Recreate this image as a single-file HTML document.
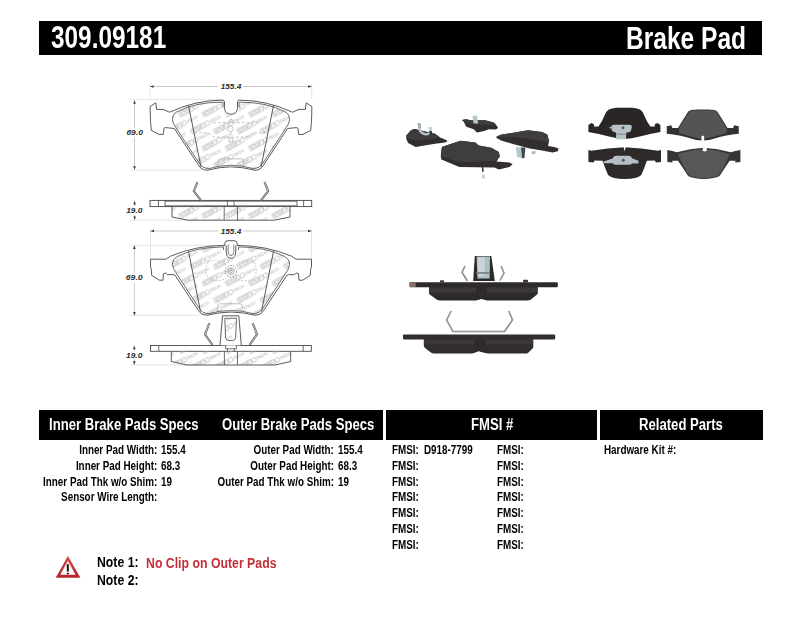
<!DOCTYPE html>
<html><head><meta charset="utf-8">
<style>
html,body{margin:0;padding:0;background:#fff;}
body{width:800px;height:619px;position:relative;overflow:hidden;font-family:"Liberation Sans",sans-serif;font-weight:bold;color:#000;}
.bar{position:absolute;background:#000;}
.t{position:absolute;white-space:nowrap;line-height:1;transform-origin:0 0;}
.r{transform-origin:100% 0;text-align:right;}
.w{color:#fff;}
.h{font-size:16px;}
.s{font-size:12px;}
</style></head>
<body>
<!--SVG-->
<svg style="position:absolute;left:0;top:0" width="800" height="619" viewBox="0 0 800 619">
<style>.dimt{font:italic bold 7px "Liberation Sans",sans-serif;fill:#2a2a2a} .wmt{font:bold 4.4px "Liberation Sans",sans-serif;fill:#b4b4b4;letter-spacing:-0.1px} .wmt2{font:bold 4.4px "Liberation Sans",sans-serif;fill:#c4c4c4;letter-spacing:-0.1px}</style>
<path d="M150,84 V99.5 M311.7,84 V99.5 M130,99.4 H224 M130,170.1 H202" stroke="#dedede" stroke-width="0.8" fill="none"/>
<path d="M150,86.5 H218 M243.5,86.5 H311.7" stroke="#b8b8b8" stroke-width="0.75" fill="none"/>
<path d="M150,86.5 l3.5,-1.3 v2.6 z" fill="#333"/>
<path d="M311.7,86.5 l-3.5,-1.3 v2.6 z" fill="#333"/>
<text x="220.7" y="88.9" textLength="20.6" lengthAdjust="spacingAndGlyphs" class="dimt">155.4</text>
<path d="M134.5,100.2 V128.5 M134.5,137 V169.8" stroke="#b8b8b8" stroke-width="0.75" fill="none"/>
<path d="M134.5,100.2 l-1.3,3.5 h2.6 z" fill="#333"/>
<path d="M134.5,169.8 l-1.3,-3.5 h2.6 z" fill="#333"/>
<text x="126.4" y="135.1" textLength="16.5" lengthAdjust="spacingAndGlyphs" class="dimt">69.0</text>
<defs><clipPath id="cp1"><path d="M231,114.2 Q224.5,114.2 224.5,107.5 L224.5,101.8 Q224.5,100.3 222.5,100.2 Q196,100 169.5,112.2 L163,109.4 L156.6,109.4 L155.75,102.8 L150.1,106.6 L150.5,121.5 L151.3,130.4 L159,134.4 L163.4,134.4 L164,128.2 L165.6,127.6 L174.4,128.5 L198.4,165 Q201,170 207,170.3 Q219,167 231,166.8 Q243,167 255,170.3 Q261,170 263.6,165 L287.6,128.5 L296.4,127.6 L298,128.2 L298.6,134.4 L303,134.4 L310.7,130.4 L311.5,121.5 L311.9,106.6 L306.25,102.8 L305.4,109.4 L299,109.4 L292.5,112.2 Q266,100 239.5,100.2 Q237.5,100.3 237.5,101.8 L237.5,107.5 Q237.5,114.2 231,114.2 Z"/></clipPath><clipPath id="cp2"><path id="bp2d" d="M224.8,245.4 Q196,245.5 170.5,256.2 L165.8,259.2 L150.5,259.2 L150.5,267.3 L151.3,269 L151.7,275.4 L159.4,280.2 L163,280.2 L163.4,273.8 L165.8,273 L167.5,274.6 L173.5,274.6 L175,275.2 L198.4,310.5 Q201,315 207,315.2 Q219,312.2 231,312 Q243,312.2 255,315.2 Q261,315 263.6,310.5 L287,275.2 L288.5,274.6 L294.5,274.6 L296.2,273 L298.6,273.8 L299,280.2 L302.6,280.2 L310.3,275.4 L310.7,269 L311.5,267.3 L311.5,259.2 L296.2,259.2 L291.5,256.2 Q266,245.5 237.2,245.4 Z"/></clipPath><pattern id="wm" width="23.3" height="33.8" patternUnits="userSpaceOnUse" x="209.6" y="145.25"><g transform="translate(-23.3,-33.8) rotate(-28)"><rect x="-7.5" y="-2.3" width="15" height="4.6" fill="none" stroke="#a6a6a6" stroke-width="0.6"/><text x="-6.3" y="1.65" class="wmt">STOP</text><circle cx="10.8" cy="0" r="2.3" fill="none" stroke="#a6a6a6" stroke-width="0.6"/><text x="13.6" y="1.65" class="wmt2">TECH</text></g><g transform="translate(-23.3,0) rotate(-28)"><rect x="-7.5" y="-2.3" width="15" height="4.6" fill="none" stroke="#a6a6a6" stroke-width="0.6"/><text x="-6.3" y="1.65" class="wmt">STOP</text><circle cx="10.8" cy="0" r="2.3" fill="none" stroke="#a6a6a6" stroke-width="0.6"/><text x="13.6" y="1.65" class="wmt2">TECH</text></g><g transform="translate(-23.3,33.8) rotate(-28)"><rect x="-7.5" y="-2.3" width="15" height="4.6" fill="none" stroke="#a6a6a6" stroke-width="0.6"/><text x="-6.3" y="1.65" class="wmt">STOP</text><circle cx="10.8" cy="0" r="2.3" fill="none" stroke="#a6a6a6" stroke-width="0.6"/><text x="13.6" y="1.65" class="wmt2">TECH</text></g><g transform="translate(0,-33.8) rotate(-28)"><rect x="-7.5" y="-2.3" width="15" height="4.6" fill="none" stroke="#a6a6a6" stroke-width="0.6"/><text x="-6.3" y="1.65" class="wmt">STOP</text><circle cx="10.8" cy="0" r="2.3" fill="none" stroke="#a6a6a6" stroke-width="0.6"/><text x="13.6" y="1.65" class="wmt2">TECH</text></g><g transform="translate(0,0) rotate(-28)"><rect x="-7.5" y="-2.3" width="15" height="4.6" fill="none" stroke="#a6a6a6" stroke-width="0.6"/><text x="-6.3" y="1.65" class="wmt">STOP</text><circle cx="10.8" cy="0" r="2.3" fill="none" stroke="#a6a6a6" stroke-width="0.6"/><text x="13.6" y="1.65" class="wmt2">TECH</text></g><g transform="translate(0,33.8) rotate(-28)"><rect x="-7.5" y="-2.3" width="15" height="4.6" fill="none" stroke="#a6a6a6" stroke-width="0.6"/><text x="-6.3" y="1.65" class="wmt">STOP</text><circle cx="10.8" cy="0" r="2.3" fill="none" stroke="#a6a6a6" stroke-width="0.6"/><text x="13.6" y="1.65" class="wmt2">TECH</text></g><g transform="translate(23.3,-33.8) rotate(-28)"><rect x="-7.5" y="-2.3" width="15" height="4.6" fill="none" stroke="#a6a6a6" stroke-width="0.6"/><text x="-6.3" y="1.65" class="wmt">STOP</text><circle cx="10.8" cy="0" r="2.3" fill="none" stroke="#a6a6a6" stroke-width="0.6"/><text x="13.6" y="1.65" class="wmt2">TECH</text></g><g transform="translate(23.3,0) rotate(-28)"><rect x="-7.5" y="-2.3" width="15" height="4.6" fill="none" stroke="#a6a6a6" stroke-width="0.6"/><text x="-6.3" y="1.65" class="wmt">STOP</text><circle cx="10.8" cy="0" r="2.3" fill="none" stroke="#a6a6a6" stroke-width="0.6"/><text x="13.6" y="1.65" class="wmt2">TECH</text></g><g transform="translate(23.3,33.8) rotate(-28)"><rect x="-7.5" y="-2.3" width="15" height="4.6" fill="none" stroke="#a6a6a6" stroke-width="0.6"/><text x="-6.3" y="1.65" class="wmt">STOP</text><circle cx="10.8" cy="0" r="2.3" fill="none" stroke="#a6a6a6" stroke-width="0.6"/><text x="13.6" y="1.65" class="wmt2">TECH</text></g><g transform="translate(-11.65,-16.9) rotate(-28)"><rect x="-7.5" y="-2.3" width="15" height="4.6" fill="none" stroke="#a6a6a6" stroke-width="0.6"/><text x="-6.3" y="1.65" class="wmt">STOP</text><circle cx="10.8" cy="0" r="2.3" fill="none" stroke="#a6a6a6" stroke-width="0.6"/><text x="13.6" y="1.65" class="wmt2">TECH</text></g><g transform="translate(-11.65,16.9) rotate(-28)"><rect x="-7.5" y="-2.3" width="15" height="4.6" fill="none" stroke="#a6a6a6" stroke-width="0.6"/><text x="-6.3" y="1.65" class="wmt">STOP</text><circle cx="10.8" cy="0" r="2.3" fill="none" stroke="#a6a6a6" stroke-width="0.6"/><text x="13.6" y="1.65" class="wmt2">TECH</text></g><g transform="translate(-11.65,50.7) rotate(-28)"><rect x="-7.5" y="-2.3" width="15" height="4.6" fill="none" stroke="#a6a6a6" stroke-width="0.6"/><text x="-6.3" y="1.65" class="wmt">STOP</text><circle cx="10.8" cy="0" r="2.3" fill="none" stroke="#a6a6a6" stroke-width="0.6"/><text x="13.6" y="1.65" class="wmt2">TECH</text></g><g transform="translate(11.65,-16.9) rotate(-28)"><rect x="-7.5" y="-2.3" width="15" height="4.6" fill="none" stroke="#a6a6a6" stroke-width="0.6"/><text x="-6.3" y="1.65" class="wmt">STOP</text><circle cx="10.8" cy="0" r="2.3" fill="none" stroke="#a6a6a6" stroke-width="0.6"/><text x="13.6" y="1.65" class="wmt2">TECH</text></g><g transform="translate(11.65,16.9) rotate(-28)"><rect x="-7.5" y="-2.3" width="15" height="4.6" fill="none" stroke="#a6a6a6" stroke-width="0.6"/><text x="-6.3" y="1.65" class="wmt">STOP</text><circle cx="10.8" cy="0" r="2.3" fill="none" stroke="#a6a6a6" stroke-width="0.6"/><text x="13.6" y="1.65" class="wmt2">TECH</text></g><g transform="translate(11.65,50.7) rotate(-28)"><rect x="-7.5" y="-2.3" width="15" height="4.6" fill="none" stroke="#a6a6a6" stroke-width="0.6"/><text x="-6.3" y="1.65" class="wmt">STOP</text><circle cx="10.8" cy="0" r="2.3" fill="none" stroke="#a6a6a6" stroke-width="0.6"/><text x="13.6" y="1.65" class="wmt2">TECH</text></g><g transform="translate(34.95,-16.9) rotate(-28)"><rect x="-7.5" y="-2.3" width="15" height="4.6" fill="none" stroke="#a6a6a6" stroke-width="0.6"/><text x="-6.3" y="1.65" class="wmt">STOP</text><circle cx="10.8" cy="0" r="2.3" fill="none" stroke="#a6a6a6" stroke-width="0.6"/><text x="13.6" y="1.65" class="wmt2">TECH</text></g><g transform="translate(34.95,16.9) rotate(-28)"><rect x="-7.5" y="-2.3" width="15" height="4.6" fill="none" stroke="#a6a6a6" stroke-width="0.6"/><text x="-6.3" y="1.65" class="wmt">STOP</text><circle cx="10.8" cy="0" r="2.3" fill="none" stroke="#a6a6a6" stroke-width="0.6"/><text x="13.6" y="1.65" class="wmt2">TECH</text></g><g transform="translate(34.95,50.7) rotate(-28)"><rect x="-7.5" y="-2.3" width="15" height="4.6" fill="none" stroke="#a6a6a6" stroke-width="0.6"/><text x="-6.3" y="1.65" class="wmt">STOP</text><circle cx="10.8" cy="0" r="2.3" fill="none" stroke="#a6a6a6" stroke-width="0.6"/><text x="13.6" y="1.65" class="wmt2">TECH</text></g></pattern></defs>
<path d="M231,115.5 Q223,115.5 223,107.5 L223,102.2 Q196,101.8 177,111.8 Q172.5,114 172.4,119.7 Q173,124 175.8,127.6 L199.6,163.8 Q202,168 208,168.8 Q219,165.5 231,165.2 Q243,165.5 254,168.8 Q260,168 262.4,163.8 L286.2,127.6 Q289,124 289.6,119.7 Q289.5,114 285,111.8 Q266,101.8 239,102.2 L239,107.5 Q239,115.5 231,115.5 Z" fill="url(#wm)" stroke="none"/>
<path d="M231,114.2 Q224.5,114.2 224.5,107.5 L224.5,101.8 Q224.5,100.3 222.5,100.2 Q196,100 169.5,112.2 L163,109.4 L156.6,109.4 L155.75,102.8 L150.1,106.6 L150.5,121.5 L151.3,130.4 L159,134.4 L163.4,134.4 L164,128.2 L165.6,127.6 L174.4,128.5 L198.4,165 Q201,170 207,170.3 Q219,167 231,166.8 Q243,167 255,170.3 Q261,170 263.6,165 L287.6,128.5 L296.4,127.6 L298,128.2 L298.6,134.4 L303,134.4 L310.7,130.4 L311.5,121.5 L311.9,106.6 L306.25,102.8 L305.4,109.4 L299,109.4 L292.5,112.2 Q266,100 239.5,100.2 Q237.5,100.3 237.5,101.8 L237.5,107.5 Q237.5,114.2 231,114.2 Z" fill="none" stroke="#474747" stroke-width="0.9"/>
<path d="M223,107.5 L223,102.2 Q196,101.8 177,111.8 Q172.5,114 172.4,119.7 Q173,124 175.8,127.6 L199.6,163.8 Q202,168 208,168.8 Q219,165.5 231,165.2 M239,107.5 239,107.5 L239,102.2 Q266,101.8 285,111.8 Q289.5,114 289.6,119.7 Q289,124 286.2,127.6 L262.4,163.8 Q260,168 254,168.8 Q243,165.5 231,165.2" fill="none" stroke="#474747" stroke-width="0.8"/>
<path d="M188.5,105.5 L201,167.2 M273.5,105.5 L261,167.2" stroke="#474747" stroke-width="0.9" fill="none"/>
<rect x="218" y="158.8" width="25.8" height="7.5" rx="2.5" fill="none" stroke="#b0b0b0" stroke-width="0.8"/>
<path d="M213,122.7 H260 M194,132.8 H208 L214.4,137.1 H246.3 L253.8,132.8 H268" stroke="#b0b0b0" stroke-width="0.7" stroke-dasharray="3,1.8" fill="none"/>
<circle cx="230.5" cy="129.1" r="2.6" fill="#fff" stroke="#999" stroke-width="0.8" stroke-dasharray="1.6,0.6"/>
<circle cx="231.0" cy="120.8" r="1.6" fill="none" stroke="#aaa" stroke-width="0.7"/>
<rect x="229.0" y="138" width="4" height="4" fill="none" stroke="#aaa" stroke-width="0.7"/>
<path d="M130,220.2 H188" stroke="#dedede" stroke-width="0.8" fill="none"/>
<path d="M134.6,201 V206.5 M134.6,215 V220" stroke="#b8b8b8" stroke-width="0.75" fill="none"/>
<path d="M134.6,201 l-1.3,3.5 h2.6 z" fill="#333"/>
<path d="M134.6,220 l-1.3,-3.5 h2.6 z" fill="#333"/>
<text x="126.2" y="213.1" textLength="16.3" lengthAdjust="spacingAndGlyphs" class="dimt">19.0</text>
<rect x="150" y="200.4" width="161.7" height="6.2" fill="#fff" stroke="#474747" stroke-width="0.9"/>
<path d="M158.4,200.4 V206.6 M303.6,200.4 V206.6 M165,201.2 H297 M165,205.8 H297 M165,200.4 V206.6 M297,200.4 V206.6" stroke="#474747" stroke-width="0.8" fill="none"/>
<path d="M227.5,200.4 V206.6 M234,200.4 V206.6" stroke="#474747" stroke-width="0.7" fill="none"/>
<path d="M172,206.6 V217 L188,220.2 H274 L290,217 V206.6 Z" fill="url(#wm)" stroke="none"/>
<path d="M172,206.6 V217 L188,220.2 H274 L290,217 V206.6" fill="none" stroke="#474747" stroke-width="0.9"/>
<path d="M224.2,206.6 V220.2 M237.5,206.6 V220.2" stroke="#474747" stroke-width="0.8" fill="none"/>
<path d="M197.5,182 L193.8,191 L201,200.4 M264.5,182 L268.2,191 L261,200.4" stroke="#4a4a4a" stroke-width="2" fill="none"/>
<path d="M197.5,182 L193.8,191 L201,200.4 M264.5,182 L268.2,191 L261,200.4" stroke="#fff" stroke-width="0.7" fill="none"/>
<path d="M150.5,229 V258.4 M311.5,229 V258.4 M130,245.3 H224 M130,315.3 H200" stroke="#dedede" stroke-width="0.8" fill="none"/>
<path d="M150.5,231 H218 M243.5,231 H311.5" stroke="#b8b8b8" stroke-width="0.75" fill="none"/>
<path d="M150.5,231 l3.5,-1.3 v2.6 z" fill="#333"/>
<path d="M311.5,231 l-3.5,-1.3 v2.6 z" fill="#333"/>
<text x="220.7" y="233.6" textLength="20.6" lengthAdjust="spacingAndGlyphs" class="dimt">155.4</text>
<path d="M134.4,245.5 V273.5 M134.4,282.5 V315.5" stroke="#b8b8b8" stroke-width="0.75" fill="none"/>
<path d="M134.4,245.5 l-1.3,3.5 h2.6 z" fill="#333"/>
<path d="M134.4,315.5 l-1.3,-3.5 h2.6 z" fill="#333"/>
<text x="125.8" y="280.1" textLength="16.8" lengthAdjust="spacingAndGlyphs" class="dimt">69.0</text>
<path d="M231,259 Q223.5,259 223.5,250 L223.5,246.9 Q196,247 177.5,256.5 Q172.5,259 172.4,264.5 Q173,269 176,272.8 L199.8,309.3 Q202,313.3 208,313.9 Q219,310.6 231,310.4 Q243,310.6 254,313.9 Q260,313.3 262.2,309.3 L286,272.8 Q289,269 289.6,264.5 Q289.5,259 284.5,256.5 Q266,247 238.5,246.9 L238.5,250 Q238.5,259 231,259 Z" fill="url(#wm)" stroke="none"/>
<path d="M224.8,245.4 Q196,245.5 170.5,256.2 L165.8,259.2 L150.5,259.2 L150.5,267.3 L151.3,269 L151.7,275.4 L159.4,280.2 L163,280.2 L163.4,273.8 L165.8,273 L167.5,274.6 L173.5,274.6 L175,275.2 L198.4,310.5 Q201,315 207,315.2 Q219,312.2 231,312 Q243,312.2 255,315.2 Q261,315 263.6,310.5 L287,275.2 L288.5,274.6 L294.5,274.6 L296.2,273 L298.6,273.8 L299,280.2 L302.6,280.2 L310.3,275.4 L310.7,269 L311.5,267.3 L311.5,259.2 L296.2,259.2 L291.5,256.2 Q266,245.5 237.2,245.4 Z" fill="none" stroke="#474747" stroke-width="0.9"/>
<path d="M223.5,250 L223.5,246.9 Q196,247 177.5,256.5 Q172.5,259 172.4,264.5 Q173,269 176,272.8 L199.8,309.3 Q202,313.3 208,313.9 Q219,310.6 231,310.4 M238.5,250 L238.5,246.9 Q266,247 284.5,256.5 Q289.5,259 289.6,264.5 Q289,269 286,272.8 L262.2,309.3 Q260,313.3 254,313.9 Q243,310.6 231,310.4" fill="none" stroke="#474747" stroke-width="0.8"/>
<path d="M224.8,246 V243.5 Q224.8,240.7 228,240.7 H234 Q237.2,240.7 237.2,243.5 V246" fill="#fff" stroke="#474747" stroke-width="0.9"/>
<path d="M226.2,245.6 V251 Q226.2,258.3 231.0,258.3 Q235.8,258.3 235.8,251 V245.6" fill="#fff" stroke="#474747" stroke-width="0.9"/>
<path d="M228.2,244.5 V250.5 Q228.2,255.5 231.0,255.5 Q233.8,255.5 233.8,250.5 V244.5" fill="none" stroke="#474747" stroke-width="0.7"/>
<path d="M188.5,251.5 L200.5,311.5 M273.5,251.5 L261.5,311.5" stroke="#474747" stroke-width="0.9" fill="none"/>
<rect x="217.5" y="303.8" width="25" height="7.2" rx="2.5" fill="none" stroke="#b0b0b0" stroke-width="0.8"/>
<circle cx="231.0" cy="271.3" r="5.7" fill="none" stroke="#8a8a8a" stroke-width="0.8" stroke-dasharray="2,0.8"/>
<circle cx="231.0" cy="271.3" r="3.2" fill="none" stroke="#8a8a8a" stroke-width="0.8"/>
<circle cx="231.0" cy="271.3" r="1.3" fill="none" stroke="#8a8a8a" stroke-width="0.7"/>
<path d="M208,262 Q219,258 226,265 M254,262 Q243,258 236,265 M208,262 Q203,271 209,279 Q219,283 226,278 M254,262 Q259,271 253,279 Q243,283 236,278" stroke="#b0b0b0" stroke-width="0.7" fill="none" stroke-dasharray="2,1.5"/>
<path d="M130,365 H200" stroke="#dedede" stroke-width="0.8" fill="none"/>
<path d="M134.3,345.8 V350.5 M134.3,359.5 V364.8" stroke="#b8b8b8" stroke-width="0.75" fill="none"/>
<path d="M134.3,345.8 l-1.3,3.5 h2.6 z" fill="#333"/>
<path d="M134.3,364.8 l-1.3,-3.5 h2.6 z" fill="#333"/>
<text x="126" y="357.6" textLength="16.3" lengthAdjust="spacingAndGlyphs" class="dimt">19.0</text>
<rect x="150.5" y="345.5" width="160.8" height="5.8" fill="#fff" stroke="#474747" stroke-width="0.9"/>
<path d="M158.8,345.5 V351.3 M303.2,345.5 V351.3" stroke="#474747" stroke-width="0.8" fill="none"/>
<path d="M171.3,351.3 V361.5 L187,365 H275 L290.7,361.5 V351.3 Z" fill="url(#wm)" stroke="none"/>
<path d="M171.3,351.3 V361.5 L187,365 H275 L290.7,361.5 V351.3" fill="none" stroke="#474747" stroke-width="0.9"/>
<path d="M224.4,351.3 V365 M237.5,351.3 V365" stroke="#474747" stroke-width="0.8" fill="none"/>
<path d="M225.6,345.5 V348.8 H236.4 V345.5 M227.5,348.8 V351.3 M234.5,348.8 V351.3" stroke="#474747" stroke-width="0.8" fill="#fff"/>
<path d="M220,345.2 L222.5,315.8 H238.8 L241.3,345.2" fill="#fff" stroke="#474747" stroke-width="0.9"/>
<path d="M224.8,318.3 H236.5 L235.6,338 Q235,340.5 232.5,340.5 H228.8 Q226.3,340.5 225.6,338 Z" fill="url(#wm)" stroke="#474747" stroke-width="0.8"/>
<path d="M209.4,323 L205,334.4 L212.5,345 M252.6,323 L257,334.4 L249.5,345" stroke="#4a4a4a" stroke-width="2" fill="none"/>
<path d="M209.4,323 L205,334.4 L212.5,345 M252.6,323 L257,334.4 L249.5,345" stroke="#fff" stroke-width="0.7" fill="none"/>
<filter id="soft" x="-5%" y="-5%" width="110%" height="110%"><feGaussianBlur stdDeviation="0.35"/></filter><g filter="url(#soft)"><path d="M406.25,135.6 L411.25,130 L415,129 L418.75,130 L429.4,132.5 L435,133.75 L440,137.5 L446.25,140 L447.5,141.25 L445,142.5 L435,143.75 L415.6,146.9 L408.1,143.1 L406.25,138.75 Z" fill="#312e2e" />
<path d="M406.25,135.6 L411.25,130 L415,129 L418.75,130 L429.4,132.5 L435,133.75 L440,137.5 L433,139 L416,140.5 L408,139 Z" fill="#3d3a3a" />
<path d="M419,124 L420,131 Q424,136 429.5,133.5 L430,127.5" stroke="#b3c6cc" stroke-width="2.2" fill="none"/>
<path d="M417.5,123.3 L420.6,123.1 L421,128 L418.5,128.5 Z" fill="#9aadb4" />
<path d="M428.75,127 L431.9,127 L431.9,131 L429,131 Z" fill="#c2d0d4" />
<path d="M429.5,131 L431.9,131 L431.9,135 L429.5,135 Z" fill="#2c3436" />
<path d="M461.9,119.9 L466.25,119.25 L470.6,120.2 L485,120.2 L493.75,122.4 L496.25,124.9 L498.1,128 L495.6,129.6 L488.75,129.25 L484.4,131.1 L476.9,132.4 L473.75,129.25 L466.25,126.75 L463.75,121.75 Z" fill="#302d2d" />
<path d="M461.9,119.9 L466.25,119.25 L470.6,120.2 L485,120.2 L493.75,122.4 L496.25,124.9 L490,125.5 L475,124.5 L466,122.5 Z" fill="#3d3a3a" />
<path d="M472.5,116 L477,115.5 L478.1,123.6 L473.5,123.6 Z" fill="#b2c7ce" />
<path d="M442.4,146.7 L460.5,140.8 L475.4,142.4 L478.6,145.6 L491.3,147.75 L498.8,152 L499.8,156.25 L496.6,161.6 L509.4,162.6 L512.6,164.2 L509.4,166.9 L498.8,169.5 L494.5,167.4 L459.4,166.9 L441.4,159.4 L440.8,156.25 L441.4,148.8 Z" fill="#312e2e" />
<path d="M442.4,146.7 L460.5,140.8 L475.4,142.4 L478.6,145.6 L491.3,147.75 L498.8,152 L499.8,157 L495,161 L459.4,162.3 L441.6,156.5 Z" fill="#413e3e" />
<path d="M482.5,167 L483,172" stroke="#333" stroke-width="1.5"/><path d="M482,174.5 L484.5,174.5 L485,178.6 L482,178.6 Z" fill="#c5d0d4"/>
<path d="M496.5,136.4 L501.75,134.6 L528,130.25 L542,132 L547.25,134.6 L549,140.75 L548.1,146 L554.25,146.9 L558.6,148.6 L557.75,151.25 L552.5,152.6 L542,150.4 L529.75,148.6 L516.6,145.1 L501.75,140.75 L496.5,138.1 Z" fill="#302d2d" />
<path d="M496.5,136.4 L501.75,134.6 L528,130.25 L542,132 L547.25,134.6 L549,140.75 L548.5,142.5 L530,139 L518,137.2 L510,137.5 Z" fill="#403d3d" />
<path d="M515.75,147 L521,147.5 L522,158.25 L517,157 Z" fill="#b9c9ce" />
<path d="M521,147.5 L525.4,147.5 L524.5,158 L522,158.25 Z" fill="#3f4a4e" />
<path d="M532,151.25 L535.9,151.25 L535,153.9 L531.5,153.9 Z" fill="#a8b4b8" />
<path d="M624.4,107.7 C616,107.5 611,107.9 608.5,109.8 Q606,111.5 605,114.5 Q602,122 598.5,126.4 L594,126.4 L594,124.2 L591.25,123 L588.4,125.1 L588.4,132 Q600,134 610,136.8 Q617,138.8 624.4,138.9 Q631.8,138.8 638.8,136.8 Q648.8,134 660.4,132 L660.4,125.1 L657.55,123 L654.8,124.2 L654.8,126.4 L650.3,126.4 Q646.8,122 643.8,114.5 Q642.8,111.5 640.3,109.8 C637.8,107.9 632.8,107.5 624.4,107.7 Z" fill="#2b2828" />
<path d="M611.3,126.6 Q611.5,124.8 614,124.7 H629.5 Q632,124.8 631.8,127 L631,130.8 Q630,132.4 627.5,132.6 L626.3,132.6 L626,139.2 H616.2 L616,132.6 Q612.5,132.2 611.8,130.5 Z" fill="#b6c3c8"/>
<path d="M616.2,133.5 H626 V135 H616.2 Z" fill="#8e9a9e"/>
<circle cx="623" cy="127.8" r="1.4" fill="#505a5e"/><circle cx="610.5" cy="127.6" r="0.9" fill="#d0d8da"/>
<path d="M702.75,109.5 C694,109.5 690,109.7 688.3,111.5 Q684,118 678,128.1 L672.4,128.1 L671.25,125.3 L666.75,126.2 L666.75,133.75 Q680,135 690,138.2 Q696,140.4 702.75,140.6 Q709.5,140.4 715.5,138.2 Q725.5,135 738.75,133.75 L738.75,126.2 L734.25,125.3 L733.1,128.1 L727.5,128.1 Q721.5,118 717.2,111.5 C715.5,109.7 711.5,109.5 702.75,109.5 Z" fill="#333131" />
<path d="M702.75,110.3 C694,110.3 690.5,110.5 689,112.2 Q684.5,119 679,128.3 L679,133.2 Q688,135.5 694,137.2 Q698,138.4 702.75,138.5 Q707.5,138.4 711.5,137.2 Q717.5,135.5 726.5,133.2 L726.5,128.3 Q721,119 716.5,112.2 C715,110.5 711.5,110.3 702.75,110.3 Z" fill="#555353" />
<rect x="701.4" y="135.8" width="2.8" height="5.4" rx="1.1" fill="#fff"/>
<path d="M624.7,147.2 Q608,147.9 591.25,150.7 L588.4,150.1 L588.4,162 L593.5,162.5 L594.6,160.4 L602.5,160.8 Q605,168 608.1,174.9 Q612,178.7 624.7,178.9 Q637.4,178.7 641.3,174.9 Q644.4,168 646.9,160.8 L654.8,160.4 L655.9,162.5 L661,162 L661,150.1 L658.15,150.7 Q641.4,147.9 624.7,147.2 Z" fill="#2d2929" />
<path d="M623.6,146.8 L624.6,151.5 L625.8,146.8 Z" fill="#fff"/>
<path d="M603.6,161.6 L612.6,158.6 Q613.5,155.8 616,155.75 H629 Q631.5,155.8 632,158.3 L638.5,160.8 V163.5 L632,163.4 Q631.5,164.8 629,164.8 H616 Q613.5,164.8 612.8,163.3 L603.6,163.2 Z" fill="#b3bfc4"/>
<circle cx="623.3" cy="160.25" r="1.5" fill="#505a5e"/>
<path d="M703.85,147.8 Q690,148.6 676.9,152.2 L672.4,151 L667.3,150.1 L667.3,162 L672.4,162.5 L672.4,160.8 L678,160.8 Q683,168 688.1,176 Q693,178.7 703.85,178.9 Q714.7,178.7 719.6,176 Q724.7,168 729.7,160.8 L735.3,160.8 L735.3,162.5 L740.4,162 L740.4,150.1 L735.3,151 L730.8,152.2 Q717.7,148.6 703.85,147.8 Z" fill="#363434" />
<path d="M703.85,149.1 Q690,149.9 678,154.5 Q683,166 688.6,175.3 Q694,178 703.85,178.2 Q713.7,178 719.1,175.3 Q724.7,166 729.7,154.5 Q717.7,149.9 703.85,149.1 Z" fill="#595757" />
<path d="M702.75,147.2 V150.3 Q704.7,152.8 706.7,150.3 V147.2 Z" fill="#fff"/>
<path d="M465,266 L462,272.5 L467.5,281 M501,266 L504,273 L500,280.5" stroke="#6e6e6e" stroke-width="1.5" fill="none"/>
<path d="M465,266 L462,272.5 L467.5,281 M501,266 L504,273 L500,280.5" stroke="#d8d8d8" stroke-width="0.45" fill="none"/>
<path d="M409.5,282.6 Q409.5,282.3 410.5,282.3 H557 Q557.8,282.4 557.8,283.3 V286.3 Q557.8,287.2 557,287.2 H537.8 V293 Q537.8,294 537,294.6 L531,299.6 Q529.5,300.6 527.5,300.6 H487 L481.5,299 L476,300.6 H440 Q438,300.6 436.6,299.6 L429.8,294.4 Q429,293.8 429,293 V287.2 H410.5 Q409.5,287.2 409.5,286.2 Z" fill="#2f2b2b"/>
<path d="M429.6,287.6 H537.2 V292.5 H429.6 Z" fill="#3b3737"/>
<path d="M476,287.6 H487 V300 L481.5,298.6 L476,300 Z" fill="#2d2929"/>
<rect x="409.7" y="282.7" width="6" height="4.2" fill="#8d6f66"/>
<rect x="440" y="280.2" width="4" height="2.4" rx="0.8" fill="#3a3636"/><rect x="523" y="279.8" width="5" height="2.8" rx="0.8" fill="#3a3636"/>
<path d="M474.8,256 H491.3 L494.8,281 H473.2 Z" fill="#2c2a2a"/>
<path d="M476.6,256.4 H490 L489.6,278.5 H477.4 Z" fill="#aebfc6"/>
<path d="M477.6,257.5 H485 L484.5,276 H478.4 Z" fill="#c9d5d9"/>
<path d="M476.5,272 H490 V274 H476.5 Z" fill="#7f8d92"/>
<path d="M451.25,311 L446.6,320 L453,331.5 H504.5 L512.5,320 L508.8,311" stroke="#6e6e6e" stroke-width="1.5" fill="none"/>
<path d="M451.25,311 L446.6,320 L453,331.5 H504.5 L512.5,320 L508.8,311" stroke="#d8d8d8" stroke-width="0.45" fill="none"/>
<path d="M403,335 Q403,334.6 403.8,334.6 H554.3 Q555.2,334.7 555.2,335.5 V338.6 Q555.2,339.4 554.3,339.4 H533.3 V346.5 Q533.3,347.8 532.5,348.6 L528.5,352.4 Q527.3,353.6 525,353.6 H487.5 L478.5,351.2 L472.5,353.6 H434 Q432,353.6 430.8,352.6 L425,348 Q423.8,347 423.8,345.6 V339.4 H403.8 Q403,339.4 403,338.6 Z" fill="#322e2e"/>
<path d="M424.3,339.8 H532.8 V344.2 H424.3 Z" fill="#3d3939"/>
<path d="M474,339.8 H486 V352.8 L478.5,350.8 L474,352.8 Z" fill="#2f2b2b"/></g>
</svg>
<!--/SVG-->
<!-- title bar -->
<div class="bar" style="left:39px;top:20.5px;width:723px;height:34px"></div>
<div class="t w" style="left:51px;top:22px;font-size:31px;transform:scaleX(0.786)">309.09181</div>
<div class="t w" style="left:626px;top:22.5px;font-size:31px;transform:scaleX(0.792)">Brake Pad</div>

<!-- table header -->
<div class="bar" style="left:39px;top:410.4px;width:344px;height:30px"></div>
<div class="bar" style="left:386px;top:410.4px;width:211px;height:30px"></div>
<div class="bar" style="left:600px;top:410.4px;width:162.5px;height:30px"></div>
<div class="t w h" style="left:49px;top:417px;transform:scaleX(0.82)">Inner Brake Pads Specs</div>
<div class="t w h" style="left:222px;top:417px;transform:scaleX(0.82)">Outer Brake Pads Specs</div>
<div class="t w h" style="left:470.5px;top:417px;transform:scaleX(0.82)">FMSI #</div>
<div class="t w h" style="left:639px;top:417px;transform:scaleX(0.82)">Related Parts</div>

<!-- inner specs -->
<div class="t s r" style="right:643px;top:444px;transform:scaleX(0.82)">Inner Pad Width:</div>
<div class="t s r" style="right:643px;top:459.8px;transform:scaleX(0.82)">Inner Pad Height:</div>
<div class="t s r" style="right:643px;top:475.6px;transform:scaleX(0.82)">Inner Pad Thk w/o Shim:</div>
<div class="t s r" style="right:643px;top:491.4px;transform:scaleX(0.82)">Sensor Wire Length:</div>
<div class="t s" style="left:161px;top:444px;transform:scaleX(0.82)">155.4</div>
<div class="t s" style="left:161px;top:459.8px;transform:scaleX(0.82)">68.3</div>
<div class="t s" style="left:161px;top:475.6px;transform:scaleX(0.82)">19</div>

<!-- outer specs -->
<div class="t s r" style="right:466px;top:444px;transform:scaleX(0.82)">Outer Pad Width:</div>
<div class="t s r" style="right:466px;top:459.8px;transform:scaleX(0.82)">Outer Pad Height:</div>
<div class="t s r" style="right:466px;top:475.6px;transform:scaleX(0.82)">Outer Pad Thk w/o Shim:</div>
<div class="t s" style="left:338px;top:444px;transform:scaleX(0.82)">155.4</div>
<div class="t s" style="left:338px;top:459.8px;transform:scaleX(0.82)">68.3</div>
<div class="t s" style="left:338px;top:475.6px;transform:scaleX(0.82)">19</div>

<!-- FMSI -->
<div class="t s" style="left:392px;top:444px;transform:scaleX(0.82)">FMSI:</div>
<div class="t s" style="left:392px;top:459.8px;transform:scaleX(0.82)">FMSI:</div>
<div class="t s" style="left:392px;top:475.6px;transform:scaleX(0.82)">FMSI:</div>
<div class="t s" style="left:392px;top:491.4px;transform:scaleX(0.82)">FMSI:</div>
<div class="t s" style="left:392px;top:507.2px;transform:scaleX(0.82)">FMSI:</div>
<div class="t s" style="left:392px;top:523px;transform:scaleX(0.82)">FMSI:</div>
<div class="t s" style="left:392px;top:538.8px;transform:scaleX(0.82)">FMSI:</div>
<div class="t s" style="left:424px;top:444px;transform:scaleX(0.82)">D918-7799</div>
<div class="t s" style="left:497px;top:444px;transform:scaleX(0.82)">FMSI:</div>
<div class="t s" style="left:497px;top:459.8px;transform:scaleX(0.82)">FMSI:</div>
<div class="t s" style="left:497px;top:475.6px;transform:scaleX(0.82)">FMSI:</div>
<div class="t s" style="left:497px;top:491.4px;transform:scaleX(0.82)">FMSI:</div>
<div class="t s" style="left:497px;top:507.2px;transform:scaleX(0.82)">FMSI:</div>
<div class="t s" style="left:497px;top:523px;transform:scaleX(0.82)">FMSI:</div>
<div class="t s" style="left:497px;top:538.8px;transform:scaleX(0.82)">FMSI:</div>

<!-- related -->
<div class="t s" style="left:604px;top:444px;transform:scaleX(0.82)">Hardware Kit #:</div>

<!-- warning -->
<svg style="position:absolute;left:0;top:0" width="800" height="619" viewBox="0 0 800 619">
<defs><linearGradient id="tg" x1="0" y1="0" x2="0" y2="1"><stop offset="0" stop-color="#f6c9c9"/><stop offset="0.5" stop-color="#fdf1f1"/><stop offset="1" stop-color="#ffffff"/></linearGradient></defs>
<linearGradient id="rg" x1="0" y1="0" x2="0" y2="1"><stop offset="0" stop-color="#d04a4c"/><stop offset="1" stop-color="#b82326"/></linearGradient><path d="M67.9,556.4 L80,577.5 H56.1 Z" fill="url(#rg)" stroke="#b83033" stroke-width="0.5" stroke-linejoin="round"/>
<path d="M67.9,560.4 L75.5,574.7 H60.3 Z" fill="url(#tg)"/>
<rect x="66.85" y="564.2" width="1.9" height="7.4" fill="#111"/>
<rect x="66.85" y="572.8" width="1.9" height="1.6" fill="#111"/>
</svg>
<!-- notes -->
<div class="t" style="left:96.5px;top:555px;font-size:14px;transform:scaleX(0.875)">Note 1:</div>
<div class="t" style="left:96.5px;top:573px;font-size:14px;transform:scaleX(0.875)">Note 2:</div>
<div class="t" style="left:145.6px;top:556px;font-size:14.5px;color:#c3303a;transform:scaleX(0.848)">No Clip on Outer Pads</div>

</body></html>
